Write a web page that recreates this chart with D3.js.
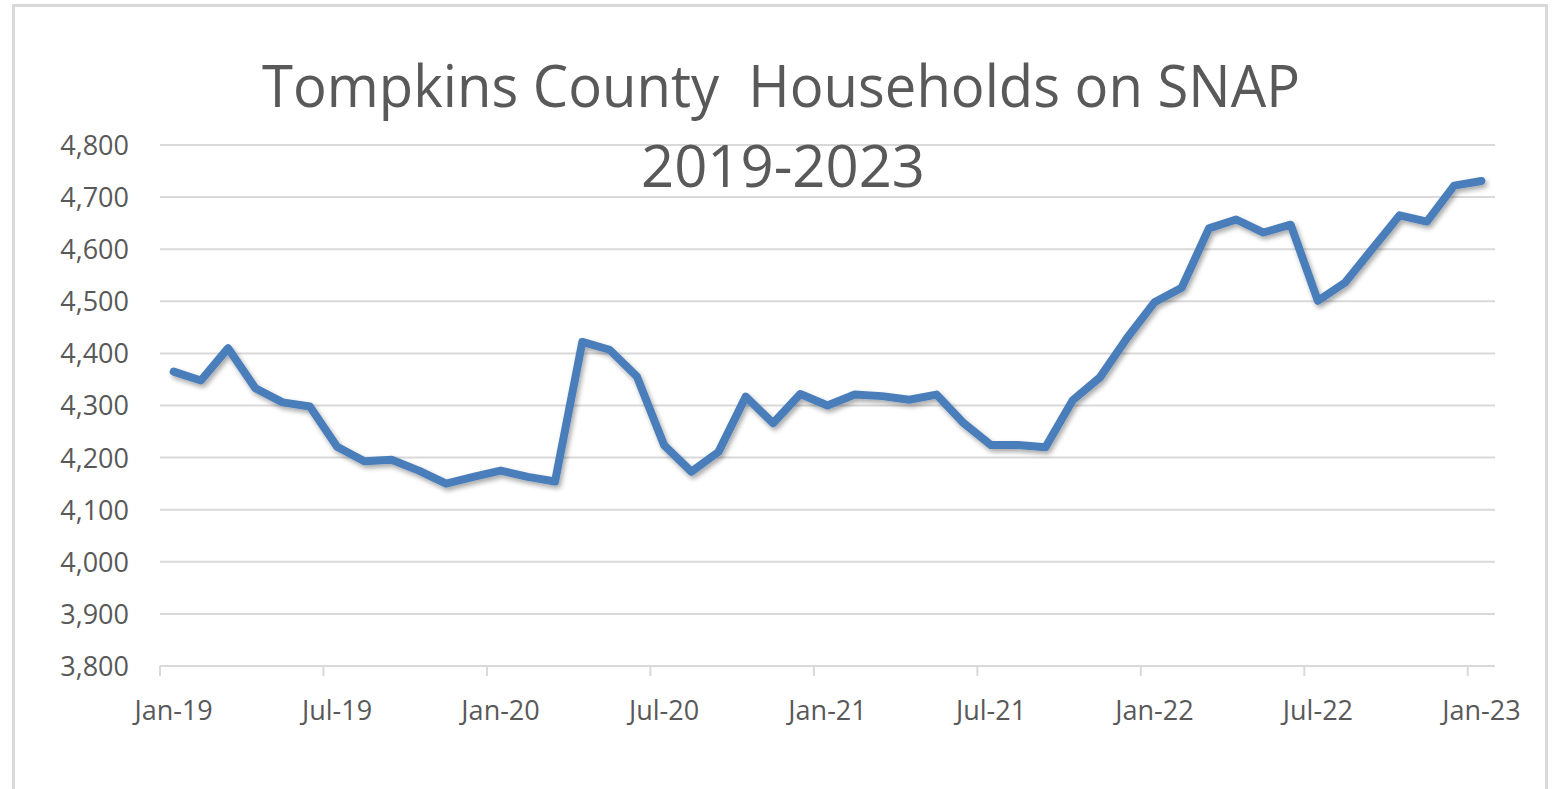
<!DOCTYPE html>
<html>
<head>
<meta charset="utf-8">
<script src="https://cdn.jsdelivr.net/npm/d3@7"></script>
<style>
  html, body { margin: 0; padding: 0; background: #fff; }
  svg { display: block; }
  .title { white-space: pre; }
</style>
</head>
<body>
<svg id="chart" width="1557" height="789"></svg>
<script>
const months = [
  "Jan-19","Feb-19","Mar-19","Apr-19","May-19","Jun-19","Jul-19","Aug-19","Sep-19","Oct-19","Nov-19","Dec-19",
  "Jan-20","Feb-20","Mar-20","Apr-20","May-20","Jun-20","Jul-20","Aug-20","Sep-20","Oct-20","Nov-20","Dec-20",
  "Jan-21","Feb-21","Mar-21","Apr-21","May-21","Jun-21","Jul-21","Aug-21","Sep-21","Oct-21","Nov-21","Dec-21",
  "Jan-22","Feb-22","Mar-22","Apr-22","May-22","Jun-22","Jul-22","Aug-22","Sep-22","Oct-22","Nov-22","Dec-22",
  "Jan-23"
];
const households = [
  4365, 4348, 4410, 4333, 4306, 4298, 4221, 4193, 4196, 4175, 4150, 4163,
  4175, 4163, 4154, 4422, 4407, 4356, 4224, 4173, 4211, 4317, 4266, 4322,
  4300, 4321, 4318, 4311, 4321, 4266, 4224, 4224, 4220, 4310, 4354, 4430,
  4498, 4526, 4640, 4657, 4632, 4647, 4501, 4536, 4601, 4665, 4653, 4722,
  4731
];
const xTickLabels = ["Jan-19","Jul-19","Jan-20","Jul-20","Jan-21","Jul-21","Jan-22","Jul-22","Jan-23"];
const yTicks = [3800, 3900, 4000, 4100, 4200, 4300, 4400, 4500, 4600, 4700, 4800];
const titleLines = ["Tompkins County  Households on SNAP", "2019-2023"];

const svg = d3.select("#chart");
const font = "'Open Sans', 'Liberation Sans', sans-serif";
const textColor = "#595959";

// frame
svg.append("rect")
  .attr("x", 13.5).attr("y", 5.5)
  .attr("width", 1533).attr("height", 800)
  .attr("fill", "#fff")
  .attr("stroke", "#d9d9d9").attr("stroke-width", 3);

const x = d3.scaleBand().domain(months).range([160, 1495]).paddingInner(0).paddingOuter(0);
const y = d3.scaleLinear().domain([3800, 4800]).range([666, 145]);

// gridlines
svg.append("g")
  .selectAll("line")
  .data(yTicks.filter(d => d !== 3800))
  .join("line")
  .attr("x1", 160).attr("x2", 1495)
  .attr("y1", d => y(d)).attr("y2", d => y(d))
  .attr("stroke", "#d9d9d9").attr("stroke-width", 2);

// y axis labels
const yAxis = d3.axisLeft(y).tickValues(yTicks).tickSize(0).tickPadding(0).tickFormat(d3.format(","));
const gy = svg.append("g").attr("transform", "translate(129,0)").call(yAxis);
gy.select(".domain").remove();
gy.selectAll("text")
  .attr("fill", textColor)
  .style("font-family", font)
  .style("font-size", "27px")
  .attr("dy", "0.35em");

// x axis
const xAxis = d3.axisBottom(x).tickValues(xTickLabels).tickSize(0).tickPadding(0);
const gx = svg.append("g").attr("transform", "translate(0,666)").call(xAxis);
gx.select(".domain")
  .attr("stroke", "#d9d9d9").attr("stroke-width", 2)
  .attr("d", "M160,0H1495");
gx.selectAll(".tick line")
  .attr("x1", -x.bandwidth() / 2).attr("x2", -x.bandwidth() / 2)
  .attr("y1", 0).attr("y2", 10)
  .attr("stroke", "#d9d9d9").attr("stroke-width", 2);
gx.selectAll("text")
  .attr("fill", textColor)
  .attr("y", 54).attr("dy", 0)
  .style("font-family", font)
  .style("font-size", "27px");

// shadow filter
const defs = svg.append("defs");
const f = defs.append("filter").attr("id", "shadow").attr("x", "-5%").attr("y", "-20%").attr("width", "110%").attr("height", "140%");
f.append("feGaussianBlur").attr("in", "SourceAlpha").attr("stdDeviation", 2.5).attr("result", "b");
f.append("feOffset").attr("in", "b").attr("dx", 2).attr("dy", 3).attr("result", "o");
f.append("feComponentTransfer").attr("in", "o").attr("result", "s")
  .append("feFuncA").attr("type", "linear").attr("slope", 0.35);
const m = f.append("feMerge");
m.append("feMergeNode").attr("in", "s");
m.append("feMergeNode").attr("in", "SourceGraphic");

// line
const line = d3.line()
  .x((d, i) => x(months[i]) + x.bandwidth() / 2)
  .y(d => y(d));
svg.append("path")
  .datum(households)
  .attr("d", line)
  .attr("fill", "none")
  .attr("stroke", "#4a7ebb")
  .attr("stroke-width", 8)
  .attr("stroke-linejoin", "round")
  .attr("stroke-linecap", "round")
  .attr("filter", "url(#shadow)");

// title
svg.append("text")
  .attr("class", "title")
  .attr("x", 781).attr("y", 107)
  .attr("text-anchor", "middle")
  .attr("fill", textColor)
  .style("font-family", font)
  .style("font-size", "58px")
  .attr("textLength", 1038)
  .attr("lengthAdjust", "spacingAndGlyphs")
  .text(titleLines[0]);
svg.append("text")
  .attr("class", "title")
  .attr("x", 783).attr("y", 187)
  .attr("text-anchor", "middle")
  .attr("fill", textColor)
  .style("font-family", font)
  .style("font-size", "58px")
  .attr("textLength", 284)
  .attr("lengthAdjust", "spacingAndGlyphs")
  .text(titleLines[1]);
</script>
</body>
</html>
